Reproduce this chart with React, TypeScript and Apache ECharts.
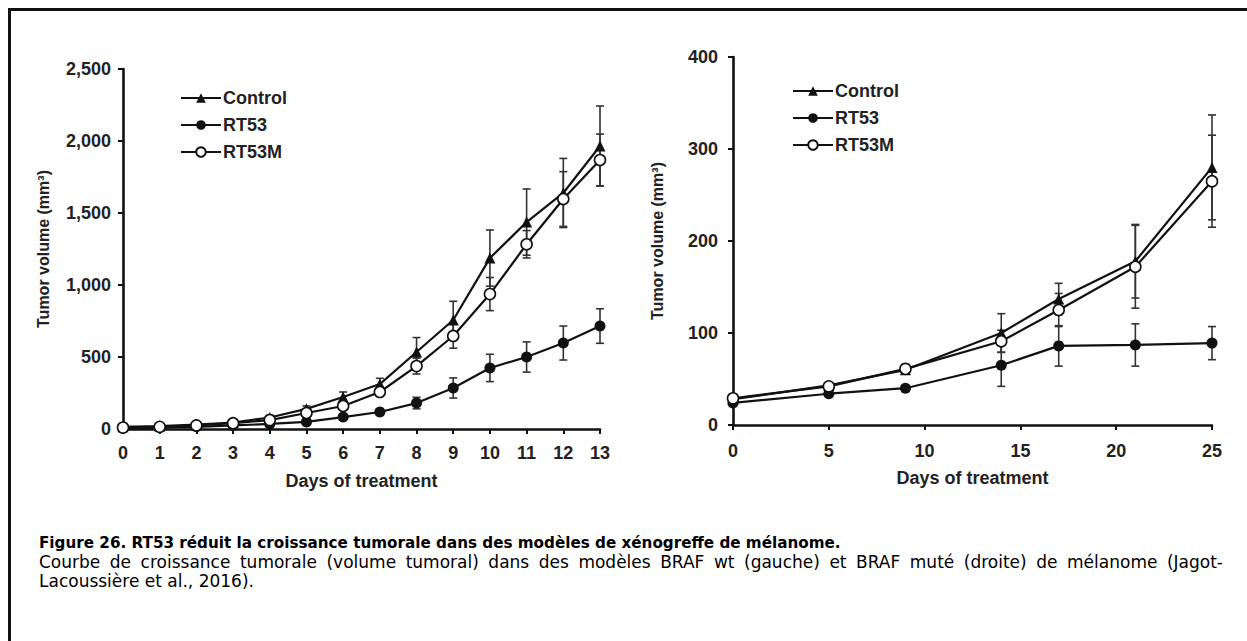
import React, { useEffect, useRef } from "react";
import * as echarts from "echarts";

const seriesNames = ["Control", "RT53", "RT53M"];

// Left panel (BRAF wt)
const days1 = [0, 1, 2, 3, 4, 5, 6, 7, 8, 9, 10, 11, 12, 13];
const control1 = [15, 20, 30, 45, 80, 140, 222, 312, 535, 757, 1187, 1437, 1639, 1965];
const control1Err = [5, 5, 8, 10, 15, 20, 35, 40, 100, 130, 195, 230, 240, 278];
const rt53_1 = [5, 10, 15, 25, 35, 49, 83, 118, 180, 285, 424, 500, 597, 715];
const rt53_1Err = [3, 3, 5, 5, 8, 10, 15, 20, 40, 70, 95, 105, 118, 120];
const rt53m1 = [10, 15, 25, 40, 62, 111, 160, 257, 437, 646, 937, 1283, 1597, 1868];
const rt53m1Err = [5, 5, 5, 8, 12, 15, 25, 30, 55, 85, 115, 95, 190, 180];
const yTicks1 = [0, 500, 1000, 1500, 2000, 2500];

// Right panel (BRAF muté)
const days2 = [0, 5, 9, 14, 17, 21, 25];
const control2 = [28, 43, 60, 100, 137, 178, 280];
const control2Err = [3, 3, 4, 21, 17, 40, 57];
const rt53_2 = [24, 34, 40, 65, 86, 87, 89];
const rt53_2Err = [3, 3, 3, 23, 22, 23, 18];
const rt53m2 = [29, 42, 61, 91, 125, 172, 265];
const rt53m2Err = [3, 3, 5, 12, 18, 45, 50];
const yTicks2 = [0, 100, 200, 300, 400];

const captionTitle = "Figure 26. RT53 réduit la croissance tumorale dans des modèles de xénogreffe de mélanome.";
const captionLine1 = "Courbe de croissance tumorale (volume tumoral) dans des modèles BRAF wt (gauche) et BRAF muté (droite) de mélanome (Jagot-";
const captionLine2 = "Lacoussière et al., 2016).";

const TXT = "#222";
const FONT = "'Liberation Sans', Arial, sans-serif";
const FS = 18;
const CAP_FONT = "17px 'DejaVu Sans', sans-serif";
const CAP_BOLD = "bold 15.2px 'DejaVu Sans', sans-serif";

function pairs(xs: number[], ys: number[]) {
  return xs.map((x, i) => [x, ys[i]]);
}
function errData(xs: number[], ys: number[], es: number[]) {
  return xs.map((x, i) => [x, ys[i] - es[i], ys[i] + es[i]]);
}

function justifiedLine(text: string, x0: number, x1: number, y: number, font: string) {
  const ctx = document.createElement("canvas").getContext("2d")!;
  ctx.font = font;
  const words = text.split(" ");
  const widths = words.map((w) => ctx.measureText(w).width);
  const total = widths.reduce((a, b) => a + b, 0);
  const gap = (x1 - x0 - total) / (words.length - 1);
  let x = x0;
  return words.map((w, i) => {
    const el = {
      type: "text",
      x,
      y,
      silent: true,
      style: { text: w, fill: "#000", font, verticalAlign: "middle" },
    };
    x += widths[i] + gap;
    return el;
  });
}

function errorSeries(data: number[][], idx: number) {
  return {
    type: "custom",
    xAxisIndex: idx,
    yAxisIndex: idx,
    silent: true,
    z: 1,
    encode: { x: 0, y: [1, 2] },
    renderItem: (params: any, api: any) => {
      const x = api.value(0);
      const lo = api.coord([x, api.value(1)]);
      const hi = api.coord([x, api.value(2)]);
      const w = 4;
      const style = { stroke: "#333", lineWidth: 1.6 };
      return {
        type: "group",
        children: [
          { type: "line", shape: { x1: lo[0], y1: lo[1], x2: hi[0], y2: hi[1] }, style },
          { type: "line", shape: { x1: lo[0] - w, y1: lo[1], x2: lo[0] + w, y2: lo[1] }, style },
          { type: "line", shape: { x1: hi[0] - w, y1: hi[1], x2: hi[0] + w, y2: hi[1] }, style },
        ],
      };
    },
    data,
  };
}

function lineSeries(name: string, data: number[][], idx: number) {
  const sym = name === "Control" ? "triangle" : "circle";
  const open = name === "RT53M";
  return {
    type: "line",
    name,
    xAxisIndex: idx,
    yAxisIndex: idx,
    z: open ? 4 : 3,
    symbol: sym,
    symbolSize: 11,
    showAllSymbol: true,
    lineStyle: { color: "#111", width: 2.2 },
    itemStyle: { color: open ? "#fff" : "#111", borderColor: "#111", borderWidth: open ? 1.6 : 0 },
    data,
  };
}

function axisCommon() {
  return {
    axisLine: { show: true, lineStyle: { color: "#111", width: 2.6 } },
    axisTick: { show: true, length: 5, lineStyle: { color: "#111", width: 2 } },
    splitLine: { show: false },
    axisLabel: { color: TXT, fontFamily: FONT, fontWeight: "bold", fontSize: FS },
    nameTextStyle: { color: TXT, fontFamily: FONT, fontWeight: "bold", fontSize: FS },
  };
}

export default function App() {
  const ref = useRef<HTMLDivElement>(null);
  useEffect(() => {
    document.body.style.margin = "0";
    const chart = echarts.init(ref.current!, undefined, { renderer: "svg" });
    const legendBase = {
      orient: "vertical",
      data: seriesNames,
      itemWidth: 40,
      itemHeight: 12,
      itemGap: 9,
      selectedMode: false,
      textStyle: { color: TXT, fontFamily: FONT, fontWeight: "bold", fontSize: FS, padding: [0, 0, 0, -3] },
    };
    const yName = { color: TXT, fontFamily: FONT, fontWeight: "bold", fontSize: 16 };
    chart.setOption({
      animation: false,
      backgroundColor: "#fff",
      grid: [
        { left: 123, top: 69, width: 477, height: 360 },
        { left: 733, top: 57, width: 479, height: 368 },
      ],
      legend: [
        { ...legendBase, left: 175, top: 84 },
        { ...legendBase, left: 787, top: 77 },
      ],
      xAxis: [
        {
          ...axisCommon(),
          type: "value",
          gridIndex: 0,
          min: 0,
          max: 13,
          interval: 1,
          name: "Days of treatment",
          nameLocation: "middle",
          nameGap: 43,
          axisLabel: { ...axisCommon().axisLabel, margin: 15 },
        },
        {
          ...axisCommon(),
          type: "value",
          gridIndex: 1,
          min: 0,
          max: 25,
          interval: 5,
          name: "Days of treatment",
          nameLocation: "middle",
          nameGap: 44,
          axisLabel: { ...axisCommon().axisLabel, margin: 17 },
        },
      ],
      yAxis: [
        {
          ...axisCommon(),
          type: "value",
          gridIndex: 0,
          min: yTicks1[0],
          max: yTicks1[yTicks1.length - 1],
          interval: yTicks1[1] - yTicks1[0],
          name: "Tumor volume (mm³)",
          nameLocation: "middle",
          nameGap: 72,
          nameTextStyle: yName,
          axisLabel: {
            ...axisCommon().axisLabel,
            margin: 12,
            formatter: (v: number) => v.toLocaleString("en-US"),
          },
        },
        {
          ...axisCommon(),
          type: "value",
          gridIndex: 1,
          min: yTicks2[0],
          max: yTicks2[yTicks2.length - 1],
          interval: yTicks2[1] - yTicks2[0],
          name: "Tumor volume (mm³)",
          nameLocation: "middle",
          nameGap: 68,
          nameTextStyle: yName,
          axisLabel: { ...axisCommon().axisLabel, margin: 15 },
        },
      ],
      series: [
        errorSeries(errData(days1, control1, control1Err), 0),
        errorSeries(errData(days1, rt53_1, rt53_1Err), 0),
        errorSeries(errData(days1, rt53m1, rt53m1Err), 0),
        lineSeries("Control", pairs(days1, control1), 0),
        lineSeries("RT53", pairs(days1, rt53_1), 0),
        lineSeries("RT53M", pairs(days1, rt53m1), 0),
        errorSeries(errData(days2, control2, control2Err), 1),
        errorSeries(errData(days2, rt53_2, rt53_2Err), 1),
        errorSeries(errData(days2, rt53m2, rt53m2Err), 1),
        lineSeries("Control", pairs(days2, control2), 1),
        lineSeries("RT53", pairs(days2, rt53_2), 1),
        lineSeries("RT53M", pairs(days2, rt53m2), 1),
      ],
      graphic: [
        {
          type: "rect",
          shape: { x: 9.5, y: 9.5, width: 1400, height: 800 },
          style: { fill: "none", stroke: "#111", lineWidth: 3 },
          silent: true,
        },
        {
          type: "text",
          x: 39,
          y: 543,
          style: { text: captionTitle, fill: "#000", font: CAP_BOLD, verticalAlign: "middle" },
        },
        ...justifiedLine(captionLine1, 39, 1223, 562, CAP_FONT),
        {
          type: "text",
          x: 39,
          y: 581,
          style: { text: captionLine2, fill: "#000", font: CAP_FONT, verticalAlign: "middle" },
        },
      ],
    });
    return () => chart.dispose();
  }, []);
  return <div ref={ref} style={{ position: "absolute", left: 0, top: 0, width: 1247, height: 641 }} />;
}
